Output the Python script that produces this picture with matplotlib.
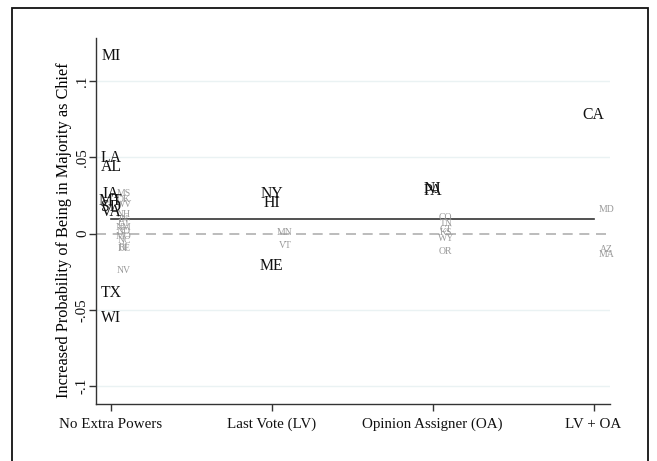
import matplotlib
matplotlib.use('Agg')
import matplotlib.pyplot as plt
from matplotlib.patches import Rectangle

plt.rcParams['font.family'] = ['Liberation Serif', 'DejaVu Serif']

categories = ["No Extra Powers", "Last Vote (LV)", "Opinion Assigner (OA)", "LV + OA"]

# significant states (dark labels)
sig_states = [
    ["MI", "LA", "AL", "IA", "MT", "SD", "VA", "TX", "WI"],
    ["NY", "HI", "ME"],
    ["NJ", "PA"],
    ["CA"],
]
sig_values = [
    [0.1166, 0.0498, 0.0439, 0.0256, 0.0216, 0.0177, 0.0138, -0.0387, -0.0552],
    [0.0256, 0.0203, -0.0216],
    [0.0295, 0.0280],
    [0.0780],
]

# other states (gray labels)
other_states = [
    ["MS", "OK", "WV", "NH", "IN", "UT", "NM", "ND", "MO", "NC", "RI", "DE", "NV"],
    ["MN", "VT"],
    ["CO", "TN", "CT", "KS", "WY", "OR"],
    ["MD", "AZ", "MA"],
]
other_values = [
    [0.0260, 0.0225, 0.0190, 0.0125, 0.0090, 0.0065, 0.0040, 0.0015, -0.0020, -0.0045, -0.0090, -0.0100, -0.0243],
    [0.0007, -0.0079],
    [0.0105, 0.0066, 0.0026, 0.0007, -0.0033, -0.0118],
    [0.0157, -0.0105, -0.0138],
]

mean_effect = 0.0098

fig = plt.figure(figsize=(6.57, 4.61), dpi=100)
ax = fig.add_axes([0.146, 0.1236, 0.782, 0.794])

xpos = list(range(1, len(categories) + 1))

# gridlines
for g in [-0.1, -0.05, 0.05, 0.1]:
    ax.axhline(g, color='#eaf2f3', lw=1.0, zorder=0)

ax.axhline(0, color='#b0b0b0', lw=1.2, ls=(0, (6, 4)), zorder=1)
ax.plot([xpos[0], xpos[-1]], [mean_effect, mean_effect], color='#333333', lw=1.2, zorder=2)

for x, names, vals in zip(xpos, other_states, other_values):
    for n, v in zip(names, vals):
        ax.annotate(n, (x, v), xytext=(9.4, 0), textcoords='offset points',
                    ha='center', va='center', fontsize=7, color='#9a9a9a', zorder=3)

for x, names, vals in zip(xpos, sig_states, sig_values):
    for n, v in zip(names, vals):
        ax.text(x, v, n, ha='center', va='center', fontsize=11.3, color='#111111', zorder=4)

ax.set_xlim(0.907, 4.10)
ax.set_ylim(-0.1118, 0.1282)
ax.set_xticks(xpos)
ax.set_xticklabels(categories, fontsize=10.8)
ax.set_yticks([-0.1, -0.05, 0, 0.05, 0.1])
ax.set_yticklabels(["-.1", "-.05", "0", ".05", ".1"], rotation=90, va='center', fontsize=10.8)
ax.set_ylabel("Increased Probability of Being in Majority as Chief", fontsize=11.7)
ax.yaxis.set_label_coords(-0.047, 0.475)

for s in ['top', 'right']:
    ax.spines[s].set_visible(False)
for s in ['left', 'bottom']:
    ax.spines[s].set_color('#333333')
    ax.spines[s].set_linewidth(1.0)
ax.tick_params(direction='out', length=5, width=1.0, color='#333333', labelcolor='#111111')
ax.tick_params(axis='y', pad=0)
ax.tick_params(axis='x', pad=5)

# outer frame
fig.patches.append(Rectangle((0.018, -0.05), 0.968, 1.0326, transform=fig.transFigure,
                             fill=False, edgecolor='#111111', lw=1.3))

fig.savefig('out.png', dpi=100)
